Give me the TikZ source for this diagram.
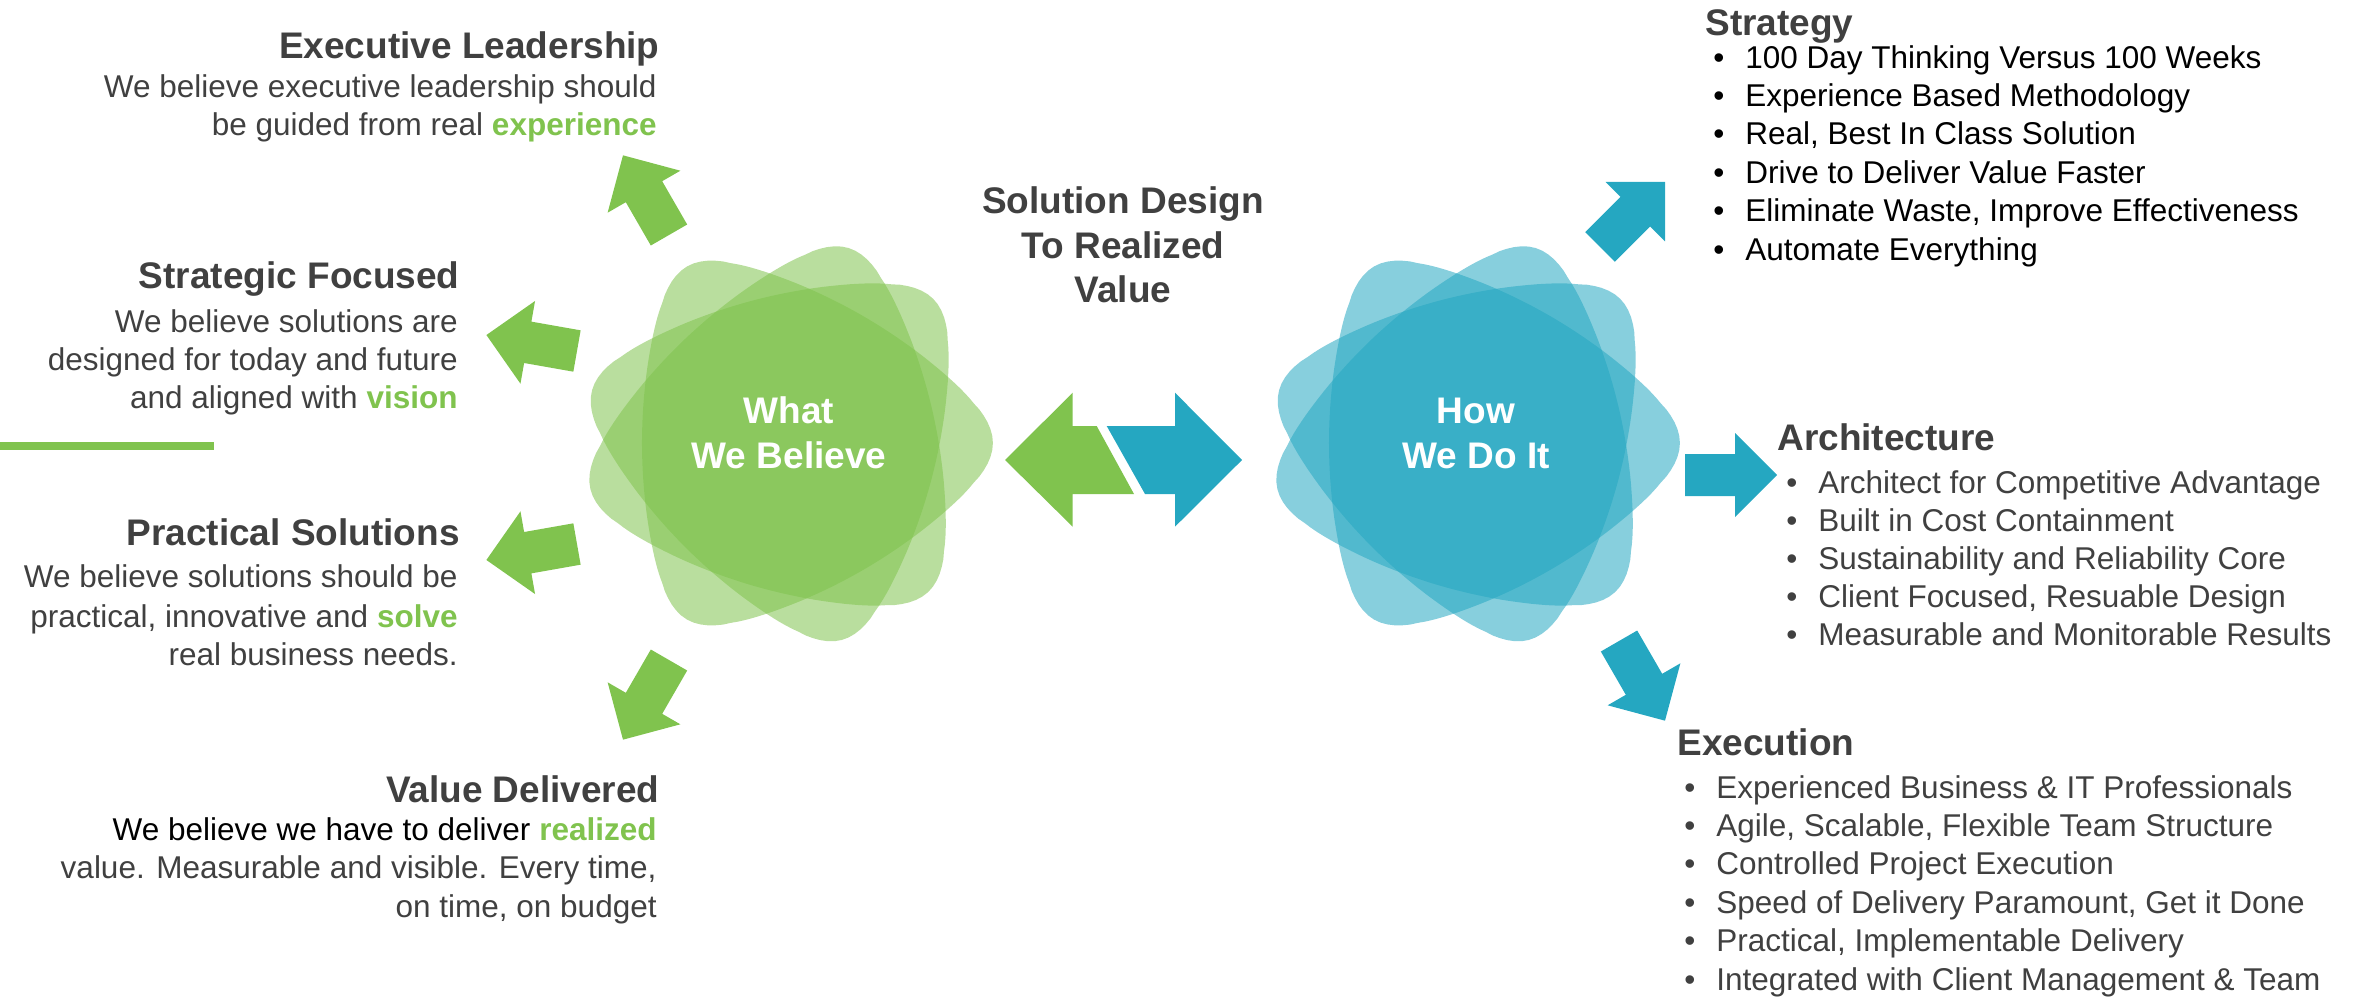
\documentclass[tikz,border=0pt]{standalone}
\usepackage{fontspec}
\setmainfont{Liberation Sans}

\definecolor{leafgreen}{RGB}{128,195,78}
\definecolor{leafblue}{RGB}{37,167,193}
\definecolor{txtgray}{RGB}{64,64,64}

% rounded triangle with bulged sides (radius in units of the side distance)
\pgfmathdeclarefunction{arcr}{1}{\pgfmathparse{1/(-2.673*cos(#1)+sqrt(13.49-7.145*sin(#1)^2))}}
\pgfmathdeclarefunction{petal}{1}{\pgfmathparse{(arcr(#1-60)^8+arcr(#1-180)^8+arcr(#1-300)^8)^(-1/8)}}

\newcommand{\greenword}[1]{\textcolor{leafgreen}{\bfseries #1}}

\tikzset{
  hdr/.style={font=\fontsize{18.5}{22}\selectfont\bfseries, text=txtgray, inner sep=0pt},
  body/.style={font=\fontsize{15.75}{19}\selectfont, text=txtgray, inner sep=0pt},
  blockarrow/.pic={\fill[pic actions] (0,-21) -- (50,-21) -- (50,-42) -- (92,0) -- (50,42) -- (50,21) -- (0,21) -- cycle;},
  flower/.pic={\foreach \r in {0,45,-47}
    \fill[pic actions, fill opacity=0.55, rotate=\r] plot[domain=0:360, samples=181] (\x:{147*petal(\x)}) -- cycle;}
}

\begin{document}
\begin{tikzpicture}[x=0.5pt, y=-0.5pt]
  \useasboundingbox (0,0) rectangle (2361,997);

  % the two flowers
  \pic[fill=leafgreen] at (789,443) {flower};
  \pic[fill=leafblue] at (1476,443) {flower};
  \node[hdr, text=white, anchor=base] (believetop) at (789,423) {What};
  \node[hdr, text=white, anchor=base] (believebot) at (789,468) {We Believe};
  \node[hdr, text=white, anchor=base] (dotop) at (1476,423) {How};
  \node[hdr, text=white, anchor=base] (dobot) at (1476,468) {We Do It};

  % middle
  \node[hdr, anchor=base] (design1) at (1123,213) {Solution Design};
  \node[hdr, anchor=base] (design2) at (1123,258) {To Realized};
  \node[hdr, anchor=base] (design3) at (1123,302) {Value};
  \fill[leafgreen] (1005,460) -- (1072.7,392.7) -- (1072.7,426) -- (1096.7,426) -- (1134,494)
    -- (1072.7,494) -- (1072.7,526.7) -- cycle;
  \fill[leafblue] (1106.7,426) -- (1175,426) -- (1175,392.7) -- (1242,460) -- (1175,526.7)
    -- (1175,494) -- (1145,494) -- cycle;

  % left arrows
  \pic[fill=leafgreen, rotate=120] at (669,235) {blockarrow};
  \pic[fill=leafgreen, rotate=170] at (577,351) {blockarrow};
  \pic[fill=leafgreen, rotate=190] at (577,544) {blockarrow};
  \pic[fill=leafgreen, rotate=240] at (669,660) {blockarrow};

  % right arrows
  \pic[fill=leafblue, rotate=45] at (1600,247) {blockarrow};
  \pic[fill=leafblue] at (1685,475) {blockarrow};
  \pic[fill=leafblue, rotate=-60] at (1619,641) {blockarrow};

  % left texts
  \node[hdr, anchor=base east] (exechead) at (660,58) {Executive Leadership};
  \node[body, anchor=base east] (execline1) at (657,97) {We believe executive leadership should};
  \node[body, anchor=base east] (execline2) at (657,135) {be guided from real \greenword{experience}};

  \node[hdr, anchor=base east] (strathead) at (460,288) {Strategic Focused};
  \node[body, anchor=base east] (stratline1) at (458,332) {We believe solutions are};
  \node[body, anchor=base east] (stratline2) at (458,370) {designed for today and future};
  \node[body, anchor=base east] (stratline3) at (458,408) {and aligned with \greenword{vision}};
  \fill[leafgreen] (0,442) rectangle (214,450);

  \node[hdr, anchor=base east] (prachead) at (460,545) {Practical Solutions};
  \node[body, anchor=base east] (pracline1) at (458,587) {We believe solutions should be};
  \node[body, anchor=base east] (pracline2) at (458,627) {practical, innovative and \greenword{solve}};
  \node[body, anchor=base east] (pracline3) at (458,665) {real business needs.};

  \node[hdr, anchor=base east] (valuehead) at (660,802) {Value Delivered};
  \node[body, anchor=base east] (valueline1) at (657,840) {\textcolor{black}{We believe we have to deliver} \greenword{realized}};
  \node[body, anchor=base east] (valueline2) at (657,878) {value. Measurable and visible. Every time,};
  \node[body, anchor=base east] (valueline3) at (657,917) {on time, on budget};

  % right lists
  \node[hdr, anchor=base west] (strategyhead) at (1705,35) {Strategy};
  \foreach \t [count=\i] in {100 Day Thinking Versus 100 Weeks, Experience Based Methodology,
      {Real, Best In Class Solution}, Drive to Deliver Value Faster,
      {Eliminate Waste, Improve Effectiveness}, Automate Everything}
    \node[body, text=black, anchor=base west] (strategyitem\i) at (1713,{68+38.4*(\i-1)}) {\makebox[16pt][l]{•}\t};

  \node[hdr, anchor=base west] (archhead) at (1777,450) {Architecture};
  \foreach \t [count=\i] in {Architect for Competitive Advantage, Built in Cost Containment,
      Sustainability and Reliability Core, {Client Focused, Resuable Design},
      Measurable and Monitorable Results}
    \node[body, anchor=base west] (architem\i) at (1786,{493+38*(\i-1)}) {\makebox[16pt][l]{•}\t};

  \node[hdr, anchor=base west] (exechead2) at (1677,755) {Execution};
  \foreach \t [count=\i] in {Experienced Business \& IT Professionals, {Agile, Scalable, Flexible Team Structure},
      Controlled Project Execution, {Speed of Delivery Paramount, Get it Done},
      {Practical, Implementable Delivery}, Integrated with Client Management \& Team}
    \node[body, anchor=base west] (execitem\i) at (1684,{798+38.4*(\i-1)}) {\makebox[16pt][l]{•}\t};
\end{tikzpicture}
\end{document}
